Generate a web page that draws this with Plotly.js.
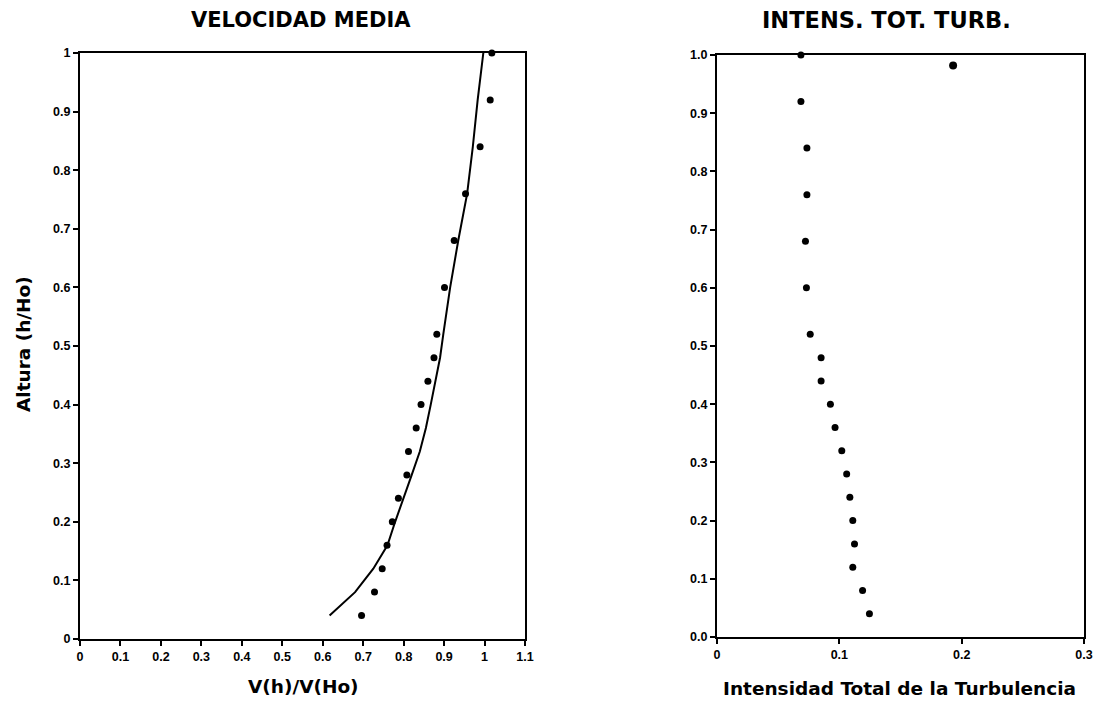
<!DOCTYPE html>
<html>
<head>
<meta charset="utf-8">
<script src="https://cdn.plot.ly/plotly-3.0.1.min.js"></script>
<style>
html,body{margin:0;padding:0;background:#fff;}
#chart{width:1105px;height:704px;}
</style>
</head>
<body>
<div id="chart"></div>
<script>
// ---- Data ----
const heights = [0.04,0.08,0.12,0.16,0.20,0.24,0.28,0.32,0.36,0.40,0.44,0.48,0.52,0.60,0.68,0.76,0.84,0.92,1.00];
const velMeasured = [0.696,0.728,0.747,0.759,0.772,0.787,0.808,0.812,0.831,0.843,0.860,0.875,0.882,0.901,0.925,0.953,0.989,1.014,1.018];
const velFit = [0.617,0.680,0.725,0.760,0.779,0.800,0.820,0.840,0.855,0.867,0.879,0.890,0.898,0.915,0.935,0.957,0.971,0.983,0.997];
const turbIntensity = [0.1246,0.119,0.111,0.1124,0.111,0.1086,0.106,0.102,0.0965,0.0927,0.0851,0.0851,0.0762,0.0731,0.0723,0.0735,0.0735,0.0686,0.0686];
const turbExtraH = [0.982];
const turbExtraI = [0.193];

const velXTicks = [0,0.1,0.2,0.3,0.4,0.5,0.6,0.7,0.8,0.9,1,1.1];
const velXText = ['0','0.1','0.2','0.3','0.4','0.5','0.6','0.7','0.8','0.9','1','1.1'];
const velYTicks = [0,0.1,0.2,0.3,0.4,0.5,0.6,0.7,0.8,0.9,1];
const velYText = ['0','0.1','0.2','0.3','0.4','0.5','0.6','0.7','0.8','0.9','1'];
const turbXTicks = [0,0.1,0.2,0.3];
const turbXText = ['0','0.1','0.2','0.3'];
const turbYTicks = [0,0.1,0.2,0.3,0.4,0.5,0.6,0.7,0.8,0.9,1];
const turbYText = ['0.0','0.1','0.2','0.3','0.4','0.5','0.6','0.7','0.8','0.9','1.0'];

const W = 1105, H = 704;
const px = v => v / W;
const py = v => 1 - v / H;

const tickFont = {family:'Liberation Sans, Arial, sans-serif', size:12.5, color:'#000', weight:'bold'};
const titleFont = {family:'DejaVu Sans, sans-serif', size:21, color:'#000', weight:'bold'};
const titleFont2 = {family:'DejaVu Sans, sans-serif', size:22.5, color:'#000', weight:'bold'};
const axTitleFont = {family:'DejaVu Sans, sans-serif', size:18.5, color:'#000', weight:'bold'};

function axis(extra){
  return Object.assign({
    showgrid:false, zeroline:false, showline:true, mirror:true,
    linecolor:'#000', linewidth:2, ticks:'outside', ticklen:5, tickwidth:2,
    tickcolor:'#000', tickfont:tickFont, tickmode:'array', fixedrange:true
  }, extra);
}

const traces = [
  {x:velFit, y:heights, xaxis:'x', yaxis:'y', type:'scatter', mode:'lines',
   line:{color:'#000', width:2}, showlegend:false, hoverinfo:'skip'},
  {x:velMeasured, y:heights, xaxis:'x', yaxis:'y', type:'scatter', mode:'markers',
   marker:{color:'#000', size:7}, cliponaxis:false, showlegend:false},
  {x:turbIntensity, y:heights, xaxis:'x2', yaxis:'y2', type:'scatter', mode:'markers',
   marker:{color:'#000', size:7}, cliponaxis:false, showlegend:false},
  {x:turbExtraI, y:turbExtraH, xaxis:'x2', yaxis:'y2', type:'scatter', mode:'markers',
   marker:{color:'#000', size:8}, cliponaxis:false, showlegend:false}
];

const layout = {
  width:W, height:H,
  margin:{l:0, r:0, t:0, b:0},
  paper_bgcolor:'#fff', plot_bgcolor:'#fff',
  showlegend:false,
  xaxis: axis({domain:[px(80), px(525)], range:[0,1.1], tickvals:velXTicks, ticktext:velXText, anchor:'y'}),
  yaxis: axis({domain:[py(639), py(53)], range:[0,1], tickvals:velYTicks, ticktext:velYText, anchor:'x'}),
  xaxis2: axis({domain:[px(717), px(1084)], range:[0,0.3], tickvals:turbXTicks, ticktext:turbXText, anchor:'y2'}),
  yaxis2: axis({domain:[py(637), py(55)], range:[0,1], tickvals:turbYTicks, ticktext:turbYText, anchor:'x2'}),
  annotations:[
    {text:'VELOCIDAD MEDIA', xref:'paper', yref:'paper', x:px(301), y:py(20), xanchor:'center', yanchor:'middle', showarrow:false, font:titleFont},
    {text:'INTENS. TOT. TURB.', xref:'paper', yref:'paper', x:px(886), y:py(20), xanchor:'center', yanchor:'middle', showarrow:false, font:titleFont2},
    {text:'V(h)/V(Ho)', xref:'paper', yref:'paper', x:px(303), y:py(686), xanchor:'center', yanchor:'middle', showarrow:false, font:axTitleFont},
    {text:'Intensidad Total de la Turbulencia', xref:'paper', yref:'paper', x:px(899), y:py(688), xanchor:'center', yanchor:'middle', showarrow:false, font:axTitleFont},
    {text:'Altura (h/Ho)', xref:'paper', yref:'paper', x:px(23), y:py(344), xanchor:'center', yanchor:'middle', textangle:-90, showarrow:false, font:axTitleFont}
  ]
};

Plotly.newPlot('chart', traces, layout, {displayModeBar:false, staticPlot:true});
</script>
</body>
</html>
